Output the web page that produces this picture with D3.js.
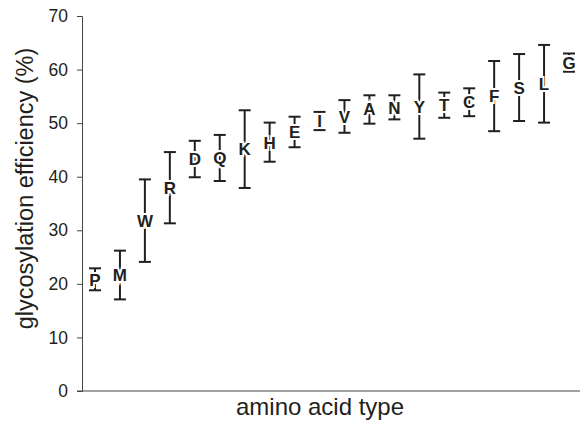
<!DOCTYPE html>
<html>
<head>
<meta charset="utf-8">
<script src="https://cdn.jsdelivr.net/npm/d3@7"></script>
<style>
  body { margin: 0; background: #fff; }
  text { font-family: "Liberation Sans", Arial, sans-serif; fill: #231f20; }
</style>
</head>
<body>
<div id="chart_wrapper"></div>
<script>
var aminoAcids = ["P","M","W","R","D","Q","K","H","E","I","V","A","N","Y","T","C","F","S","L","G"];
var means = [20.8, 21.6, 31.8, 38.0, 43.3, 43.5, 45.2, 46.4, 48.3, 50.4, 51.2, 52.6, 52.9, 53.1, 53.4, 53.9, 55.1, 56.6, 57.3, 61.3];
var lower = [18.8, 17.1, 24.1, 31.3, 39.9, 39.2, 37.9, 42.8, 45.5, 48.7, 48.2, 49.9, 50.7, 47.1, 51.0, 51.3, 48.5, 50.4, 50.1, 59.6];
var upper = [22.9, 26.2, 39.5, 44.6, 46.7, 47.8, 52.4, 50.1, 51.2, 52.1, 54.3, 55.2, 55.2, 59.1, 55.7, 56.5, 61.6, 62.9, 64.6, 63.0];
var yTicks = [0, 10, 20, 30, 40, 50, 60, 70];

var wrapperWidth = 580,
    wrapperHeight = 431;

var margin = { left: 82, right: 0, top: 16, bottom: 40 };
var width = wrapperWidth - margin.left - margin.right;
var height = wrapperHeight - margin.top - margin.bottom;

var svg = d3.select("#chart_wrapper").append("svg")
    .attr("width", wrapperWidth).attr("height", wrapperHeight)
  .append("g")
    .attr("transform", "translate(" + margin.left + "," + margin.top + ")");

var data = aminoAcids.map(function(a, i) {
  return { aa: a, mean: means[i], lo: lower[i], hi: upper[i] };
});

var x = d3.scalePoint().domain(aminoAcids).range([13, width - 11]);
var y = d3.scaleLinear().domain([0, 70]).range([height, 0]);

// y axis
var yAxis = svg.append("g")
    .call(d3.axisLeft(y).tickValues(yTicks).tickSize(5).tickPadding(9));
yAxis.selectAll("path, line").attr("stroke", "#444").attr("stroke-width", 1);
yAxis.selectAll("text").style("font-size", "17.5px").attr("fill", "#231f20");

// x axis line
svg.append("line")
    .attr("x1", -5).attr("x2", width)
    .attr("y1", y(0)).attr("y2", y(0))
    .attr("stroke", "#444").attr("stroke-width", 1);

// error bars
var bars = svg.append("g").selectAll("g")
    .data(data)
  .enter().append("g")
    .attr("transform", function(d) { return "translate(" + x(d.aa) + ",0)"; });

bars.append("line")
    .attr("y1", function(d) { return y(d.lo); })
    .attr("y2", function(d) { return y(d.hi); })
    .attr("stroke", "#231f20").attr("stroke-width", 2);

bars.selectAll(".cap")
    .data(function(d) { return [d.lo, d.hi]; })
  .enter().append("line")
    .attr("class", "cap")
    .attr("x1", -6).attr("x2", 6)
    .attr("y1", function(v) { return y(v); })
    .attr("y2", function(v) { return y(v); })
    .attr("stroke", "#231f20").attr("stroke-width", 2);

bars.append("text")
    .attr("y", function(d) { return y(d.mean); })
    .attr("dy", "0.36em")
    .attr("text-anchor", "middle")
    .style("font-size", "17px")
    .style("font-weight", "bold")
    .style("paint-order", "stroke")
    .attr("stroke", "#fff").attr("stroke-width", 4)
    .text(function(d) { return d.aa; });

// axis titles
svg.append("text")
    .attr("transform", "translate(" + (-49) + "," + (y(35) - 15) + ") rotate(-90)")
    .attr("text-anchor", "middle")
    .style("font-size", "23.5px")
    .text("glycosylation efficiency (%)");

svg.append("text")
    .attr("x", 238).attr("y", height + 24)
    .attr("text-anchor", "middle")
    .style("font-size", "24px")
    .text("amino acid type");
</script>
</body>
</html>
